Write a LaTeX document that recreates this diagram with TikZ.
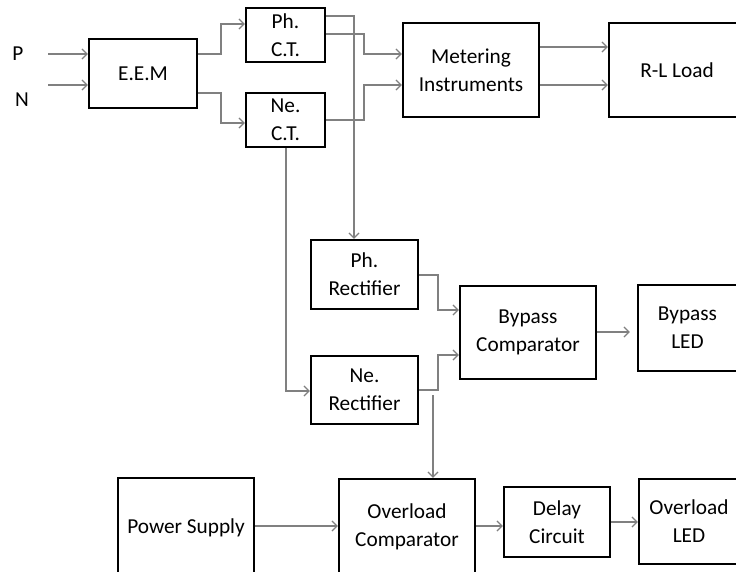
\documentclass[tikz,border=0pt]{standalone}
\usepackage{fontspec}
\setmainfont{Carlito}
\usetikzlibrary{arrows.meta}
\definecolor{linegray}{RGB}{128,128,128}
\begin{document}
\begin{tikzpicture}[x=1pt,y=-1pt,
  blk/.style={draw=black, line width=2.2pt, fill=white, align=center, inner sep=0pt,
    font=\fontsize{21.3}{28}\selectfont},
  lbl/.style={inner sep=0pt, font=\fontsize{21.3}{28}\selectfont},
  conn/.style={draw=linegray, line width=1.3pt, -{Straight Barb[length=5pt,width=10pt,line width=1.3pt]}},
  wire/.style={draw=linegray, line width=1.3pt}
]
\useasboundingbox (0,0) rectangle (736,572);
\fill[white] (0,0) rectangle (736,572);

% blocks
\node[blk, minimum width=108pt, minimum height=69pt] (eem) at (143,73.5) {E.E.M};
\node[blk, minimum width=79pt, minimum height=54pt] (phct) at (285.5,35) {Ph.\\C.T.};
\node[blk, minimum width=79pt, minimum height=54pt] (nect) at (285.5,120) {Ne.\\C.T.};
\node[blk, minimum width=136pt, minimum height=94pt] (meter) at (471,70) {Metering\\Instruments};
\node[blk, minimum width=136pt, minimum height=94pt] (rl) at (677,70) {R-L Load};
\node[blk, minimum width=107pt, minimum height=69pt] (phrect) at (364.5,274.5) {Ph.\\Rectifier};
\node[blk, minimum width=107pt, minimum height=68pt] (nerect) at (364.5,390) {Ne.\\Rectifier};
\node[blk, minimum width=136pt, minimum height=93pt] (bypass) at (528,332.5) {Bypass\\Comparator};
\node[blk, minimum width=99pt, minimum height=86pt] (bled) at (687.5,328) {Bypass\\LED};
\node[blk, minimum width=136pt, minimum height=100pt] (ps) at (186,528) {Power Supply};
\node[blk, minimum width=136pt, minimum height=96pt] (oc) at (407,527) {Overload\\Comparator};
\node[blk, minimum width=106pt, minimum height=70pt] (delay) at (557,522) {Delay\\Circuit};
\node[blk, minimum width=100pt, minimum height=85pt] (oled) at (689,521.5) {Overload\\LED};

% labels
\node[lbl] (p) at (18,54) {P};
\node[lbl] (n) at (22,100) {N};
\coordinate (pin) at (48,54);
\coordinate (nin) at (48,85);
\coordinate (ocin) at (433,395);

% connectors
\draw[conn] (pin) -- (eem.west |- pin);
\draw[conn] (nin) -- (eem.west |- nin);
\draw[conn] (eem.east |- 0,54) -- (221,54) |- (phct.west |- 0,24);
\draw[conn] (eem.east |- 0,93) -- (221,93) |- (nect.west |- 0,123);
\draw[conn] (phct.east |- 0,16) -| (phrect.north -| 354,0);
\draw[conn] (phct.east |- 0,34) -- (364,34) |- (meter.west |- 0,54);
\draw[conn] (nect.east |- 0,120) -- (364,120) |- (meter.west |- 0,85);
\draw[conn] (meter.east |- 0,47) -- (rl.west |- 0,47);
\draw[conn] (meter.east |- 0,85) -- (rl.west |- 0,85);
\draw[conn] (nect.south -| 286,0) |- (nerect.west |- 0,391);
\draw[conn] (phrect.east |- 0,275) -- (438,275) |- (bypass.west |- 0,310);
\draw[conn] (nerect.east |- 0,390) -- (438,390) |- (bypass.west |- 0,355);
\draw[conn, shorten >=7pt] (bypass.east |- 0,332) -- (bled.west |- 0,332);
\draw[conn] (ocin) -- (oc.north -| ocin);
\draw[conn] (ps.east |- 0,526) -- (oc.west |- 0,526);
\draw[conn] (oc.east |- 0,526) -- (delay.west |- 0,526);
\draw[conn] (delay.east |- 0,522) -- (oled.west |- 0,522);
\end{tikzpicture}
\end{document}
